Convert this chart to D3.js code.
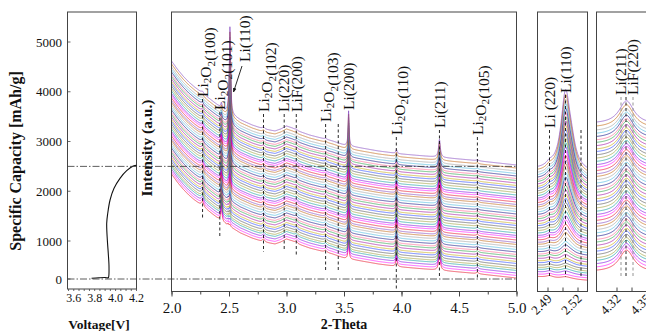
<!DOCTYPE html>
<html><head><meta charset="utf-8">
<script src="https://cdn.jsdelivr.net/npm/d3@7"></script>
<style>
body{margin:0;background:#fff}
svg{display:block}
text{font-family:"Liberation Serif","Times New Roman",serif;fill:#111}
</style>
</head><body><svg id="c" width="646" height="331"></svg>
<script>
// ================= DATA =================
// Left panel: charge curve
const voltage  = [3.77, 3.84, 3.90, 3.925, 3.932, 3.937, 3.930, 3.921, 3.915, 3.925, 3.947, 3.985, 4.042, 4.106, 4.169, 4.200];
const capacity = [18, 32, 38, 30, 40, 324, 676, 1020, 1356, 1557, 1824, 2059, 2260, 2413, 2508, 2520];
const capTicks = [0, 1000, 2000, 3000, 4000, 5000];
const voltTicks = [3.6, 3.8, 4.0, 4.2];
const capMarks = [0, 2500];

// XRD patterns
const thetaTicks = [2.0, 2.5, 3.0, 3.5, 4.0, 4.5, 5.0];
const zoom1Ticks = [2.49, 2.52];
const zoom2Ticks = [4.32, 4.35];
const bgTheta = [2.0, 2.05, 2.1, 2.15, 2.2, 2.3, 2.4, 2.5, 2.6, 2.7, 2.8, 2.9, 2.95, 3.0, 3.05, 3.1, 3.2, 3.3, 3.4, 3.5, 3.6, 3.7, 3.8, 4.0, 4.2, 4.4, 4.6, 4.8, 5.0];
const bgLevel = [104, 96, 89, 83, 78, 69, 60, 52, 45, 40, 36, 34, 36, 39, 37, 34, 30, 27, 24, 20, 18, 16, 14, 11, 9, 7, 5, 2.5, 0];
// offset of each pattern (bottom -> top)
const offsets = [13.5,16,18.5,21,23,25.5,28,30,32.5,35,37,39.5,42,44.5,47,49,51.5,54,56,58.5,61,63.5,66,68,70.5,73,75,77.5,80,82.5,85,87,89.5,92,94,96.5,99,101.5,104,106,108.5,111,113,115.5,118,120.5,123.5,126.5];
// Li(110) peak intensity of each pattern
const li110Peak = [2,2,3,3,4,4,5,5,6,7,8,9,10,12,14,16,18,20,22,24,26,28,30,32,34,36,38,40,42,44,46,48,50,52,54,56,58,60,62,64,66,68,70,72,74,76,78,80];
const li110Theta = 2.508, li110Width = 0.0055;
// other reflections: position, half width, intensity in bottom / top pattern
const peakTheta = [2.27, 2.434, 2.492, 2.80, 3.085, 3.34, 3.54, 3.956, 4.33, 4.66];
const peakWidth = [0.012, 0.006, 0.004, 0.012, 0.012, 0.012, 0.005, 0.006, 0.009, 0.012];
const peakLow   = [5, 16, 2, 3, 2, 2, 22, 10, 17, 1.5];
const peakHigh  = [2, 5, 4, 2, 1, 1, 35, 4, 18, 1];

const palette = ['#e8001c','#ff00ff','#7a00e0','#009c9c','#9a9a30','#505050','#2040ff','#c8a800','#a000a0','#20a040','#ff6090','#000080','#40b8e0','#a0a0a0','#c06000','#8040c0'];

// ================= DRAW =================
const svg = d3.select('#c');
const N = offsets.length;
const bg = d3.scaleLinear().domain(bgTheta).range(bgLevel);
const lor = (t, c, w, h) => h / (1 + ((t - c) / w) ** 2);
function intensity(i, t) {
  const g = (li110Peak[i] - 2) / 78;
  let v = offsets[i] + bg(t);
  v += lor(t, li110Theta, li110Width, li110Peak[i]);
  v += lor(t, li110Theta + 0.006, 0.005, li110Peak[i] * 0.2);
  for (let k = 0; k < peakTheta.length; k++) {
    v += lor(t, peakTheta[k], peakWidth[k], peakLow[k] + (peakHigh[k] - peakLow[k]) * g);
  }
  return v;
}

const frameColor = '#444';
const pTop = 12, pBottom = 291.5;

// ---------- Left panel ----------
const xV = d3.scaleLinear().domain([3.54, 4.2]).range([67.5, 136.5]);
const yC = d3.scaleLinear().domain([0, 1000, 5000]).range([279, 241, 42]);
const lp = svg.append('g');
lp.append('rect').attr('x', 67.5).attr('y', pTop).attr('width', 69).attr('height', 289 - pTop)
  .attr('fill', 'none').attr('stroke', frameColor).attr('stroke-width', 1);
lp.selectAll('line.vt').data(d3.range(0, 14).map(k => 3.55 + k * 0.05)).join('line')
  .attr('x1', d => xV(d)).attr('x2', d => xV(d)).attr('y1', 289).attr('y2', 291)
  .attr('stroke', frameColor).attr('stroke-width', 0.8);
lp.selectAll('text.vl').data(voltTicks).join('text')
  .attr('x', d => xV(d)).attr('y', 302).attr('text-anchor', 'middle')
  .attr('font-size', 12).text(d => d.toFixed(1));
lp.selectAll('text.cl').data(capTicks).join('text')
  .attr('x', 62).attr('y', d => yC(d)).attr('dy', '0.35em').attr('text-anchor', 'end')
  .attr('font-size', 13).text(d => d);
lp.selectAll('line.ct').data(capTicks).join('line')
  .attr('x1', 67.5).attr('x2', 70.5).attr('y1', d => yC(d)).attr('y2', d => yC(d))
  .attr('stroke', frameColor).attr('stroke-width', 0.8);
const vPts = voltage.map((v, i) => [v, capacity[i]]);
lp.append('path').datum(vPts)
  .attr('d', d3.line().x(d => xV(d[0])).y(d => yC(d[1])).curve(d3.curveCatmullRom.alpha(0.5)))
  .attr('fill', 'none').attr('stroke', '#111').attr('stroke-width', 1.1);

// titles
svg.append('text').attr('transform', `translate(20.5,161) rotate(-90)`).attr('text-anchor', 'middle')
  .attr('font-size', 16).attr('font-weight', 'bold').text('Specific Capacity [mAh/g]');
svg.append('text').attr('x', 99).attr('y', 329).attr('text-anchor', 'middle')
  .attr('font-size', 13.5).attr('font-weight', 'bold').text('Voltage[V]');
svg.append('text').attr('transform', `translate(152,148) rotate(-90)`).attr('text-anchor', 'middle')
  .attr('font-size', 15.5).attr('font-weight', 'bold').text('Intensity (a.u.)');
svg.append('text').attr('x', 344).attr('y', 329).attr('text-anchor', 'middle')
  .attr('font-size', 14).attr('font-weight', 'bold').text('2-Theta');

// ---------- Main panel ----------
const xM = d3.scaleLinear().domain([2, 5]).range([171.5, 516.5]);
const yI = d3.scaleLinear().domain([0, 279.5]).range([pBottom, pTop]);
const defs = svg.append('defs');
function clip(id, x, w) {
  defs.append('clipPath').attr('id', id).append('rect').attr('x', x).attr('y', pTop).attr('width', w).attr('height', pBottom - pTop);
}
clip('cm', 171.5, 345); clip('c3', 537.5, 50); clip('c4', 596.5, 60);

const mainGrid = d3.range(0, 1501).map(k => 2 + k * 0.002);
const gm = svg.append('g').attr('clip-path', 'url(#cm)');
const lineM = d3.line().x(d => xM(d[0])).y(d => yI(d[1]));
for (let i = 0; i < N; i++) {
  gm.append('path').datum(mainGrid.map(t => [t, intensity(i, t)]))
    .attr('d', lineM).attr('fill', 'none').attr('stroke', palette[i % palette.length])
    .attr('stroke-width', 0.7).attr('opacity', 0.9);
}
svg.append('rect').attr('x', 171.5).attr('y', pTop).attr('width', 345).attr('height', pBottom - pTop)
  .attr('fill', 'none').attr('stroke', frameColor).attr('stroke-width', 1);
const axM = d3.axisBottom(xM).tickValues(d3.range(0, 13).map(k => 2 + k * 0.25)).tickSize(3).tickFormat('');
svg.append('g').attr('transform', `translate(0,${pBottom})`).call(axM)
  .call(g => { g.select('.domain').remove(); g.selectAll('line').attr('stroke', frameColor); });
const axM2 = d3.axisBottom(xM).tickValues(thetaTicks).tickSize(5).tickFormat(d3.format('.1f'));
svg.append('g').attr('transform', `translate(0,${pBottom})`).call(axM2)
  .call(g => { g.select('.domain').remove(); g.selectAll('line').attr('stroke', frameColor);
    g.selectAll('text').attr('font-size', 15).attr('font-family', '"Liberation Serif",serif').attr('fill', '#111').attr('dy', '0.88em'); });

// dash-dot capacity markers
svg.selectAll('line.mk').data(capMarks).join('line')
  .attr('x1', 67.5).attr('x2', 516.5).attr('y1', d => yC(d)).attr('y2', d => yC(d))
  .attr('stroke', '#333').attr('stroke-width', 0.8).attr('stroke-dasharray', '7,2,1.5,2');

// vertical labels
function vLabel(x, yBottom, str, size) {
  const t = svg.append('text').attr('transform', `translate(${x + size * 0.34},${yBottom}) rotate(-90)`)
    .attr('font-size', size).attr('text-anchor', 'start');
  str.split(/(_\d)/).filter(s => s.length).forEach(s => {
    if (s[0] === '_') {
      t.append('tspan').attr('font-size', size * 0.72).attr('dy', size * 0.22).text(s[1]);
      t.append('tspan').attr('dy', -size * 0.22).text('');
    } else t.append('tspan').text(s);
  });
}
function dashed(x, y1, y2, color) {
  svg.append('line').attr('x1', x).attr('x2', x).attr('y1', y1).attr('y2', y2)
    .attr('stroke', color || '#111').attr('stroke-width', 0.9).attr('stroke-dasharray', '3,2.5');
}
const mainLabels = [
  ['Li_2O_2(100)', 2.27, 97], ['Li_2O_2(101)', 2.42, 110], ['Li_2O_2(102)', 2.80, 112],
  ['Li(220)', 2.98, 112], ['LiF(200)', 3.085, 112], ['Li_2O_2(103)', 3.34, 122],
  ['Li(200)', 3.54, 110], ['Li_2O_2(110)', 3.955, 135], ['Li(211)', 4.33, 128], ['Li_2O_2(105)', 4.66, 135]
];
mainLabels.forEach(d => vLabel(xM(d[1]), d[2], d[0], 15.5));
const mainDashes = [[2.27, 99, 219], [2.42, 112, 238], [2.80, 114, 252], [2.98, 114, 249], [3.085, 114, 257],
  [3.34, 124, 270], [3.45, 124, 270], [3.955, 137, 291], [4.33, 130, 278], [4.66, 137, 279]];
mainDashes.forEach(d => dashed(xM(d[0]), d[1], d[2]));
vLabel(245, 62, 'Li(110)', 15.5);
defs.append('marker').attr('id', 'ah').attr('viewBox', '0 0 10 10').attr('refX', 9).attr('refY', 5)
  .attr('markerWidth', 5).attr('markerHeight', 5).attr('orient', 'auto')
  .append('path').attr('d', 'M0,1 L10,5 L0,9 Z').attr('fill', '#111');
svg.append('line').attr('x1', 242).attr('y1', 66).attr('x2', 233.5).attr('y2', 92)
  .attr('stroke', '#111').attr('stroke-width', 0.9).attr('marker-end', 'url(#ah)');

// ---------- Zoom panel 1: Li(110) ----------
const x3 = d3.scaleLinear().domain([2.48, 2.53]).range([537.5, 587.5]);
const y3 = d3.scaleLinear().domain([67, 180]).range([277, 170]);
const grid3 = d3.range(0, 101).map(k => 2.48 + k * 0.0005);
const g3 = svg.append('g').attr('clip-path', 'url(#c3)');
for (let i = 0; i < N; i++) {
  g3.append('path').datum(grid3.map(t => [t, intensity(i, t)]))
    .attr('d', d3.line().x(d => x3(d[0])).y(d => y3(d[1])))
    .attr('fill', 'none').attr('stroke', palette[i % palette.length]).attr('stroke-width', 0.7).attr('opacity', 0.9);
}
svg.append('rect').attr('x', 537.5).attr('y', pTop).attr('width', 50).attr('height', pBottom - pTop)
  .attr('fill', 'none').attr('stroke', frameColor).attr('stroke-width', 1);
svg.append('g').attr('transform', `translate(0,${pBottom})`)
  .call(d3.axisTop(x3).tickValues([2.49, 2.505, 2.52]).tickSize(4).tickFormat(''))
  .call(g => { g.select('.domain').remove(); g.selectAll('line').attr('stroke', frameColor); });
svg.selectAll('text.z1').data(zoom1Ticks).join('text')
  .attr('transform', d => `translate(${x3(d) + 5},${pBottom + 8}) rotate(-45)`)
  .attr('text-anchor', 'end').attr('font-size', 13).text(d => d.toFixed(2));
vLabel(x3(2.492), 128, 'Li (220)', 15.5);
vLabel(x3(2.508), 93, 'Li(110)', 15.5);
dashed(x3(2.492), 130, 277); dashed(x3(2.508), 95, 277); dashed(x3(2.5235), 130, 277);

// ---------- Zoom panel 2: Li(211) ----------
const x4 = d3.scaleLinear().domain([4.30, 4.40]).range([596.5, 696.5]);
const y4 = d3.scaleLinear().domain([23, 136]).range([270, 122]);
const grid4 = d3.range(0, 201).map(k => 4.30 + k * 0.0005);
const g4 = svg.append('g').attr('clip-path', 'url(#c4)');
for (let i = 0; i < N; i++) {
  g4.append('path').datum(grid4.map(t => [t, intensity(i, t)]))
    .attr('d', d3.line().x(d => x4(d[0])).y(d => y4(d[1])))
    .attr('fill', 'none').attr('stroke', palette[i % palette.length]).attr('stroke-width', 0.7).attr('opacity', 0.9);
}
svg.append('rect').attr('x', 596.5).attr('y', pTop).attr('width', 100).attr('height', pBottom - pTop)
  .attr('fill', 'none').attr('stroke', frameColor).attr('stroke-width', 1);
svg.append('g').attr('transform', `translate(0,${pBottom})`)
  .call(d3.axisTop(x4).tickValues([4.32, 4.335, 4.35]).tickSize(4).tickFormat(''))
  .call(g => { g.select('.domain').remove(); g.selectAll('line').attr('stroke', frameColor); });
svg.selectAll('text.z2').data(zoom2Ticks).join('text')
  .attr('transform', d => `translate(${x4(d) + 5},${pBottom + 8}) rotate(-45)`)
  .attr('text-anchor', 'end').attr('font-size', 13).text(d => d.toFixed(2));
vLabel(x4(4.3245), 95, 'Li(211)', 15.5);
vLabel(x4(4.3365), 95, 'LiF(220)', 15.5);
dashed(x4(4.3245), 97, 277, '#888'); dashed(x4(4.3295), 97, 277); dashed(x4(4.3365), 97, 277, '#888');
</script>
</body></html>
